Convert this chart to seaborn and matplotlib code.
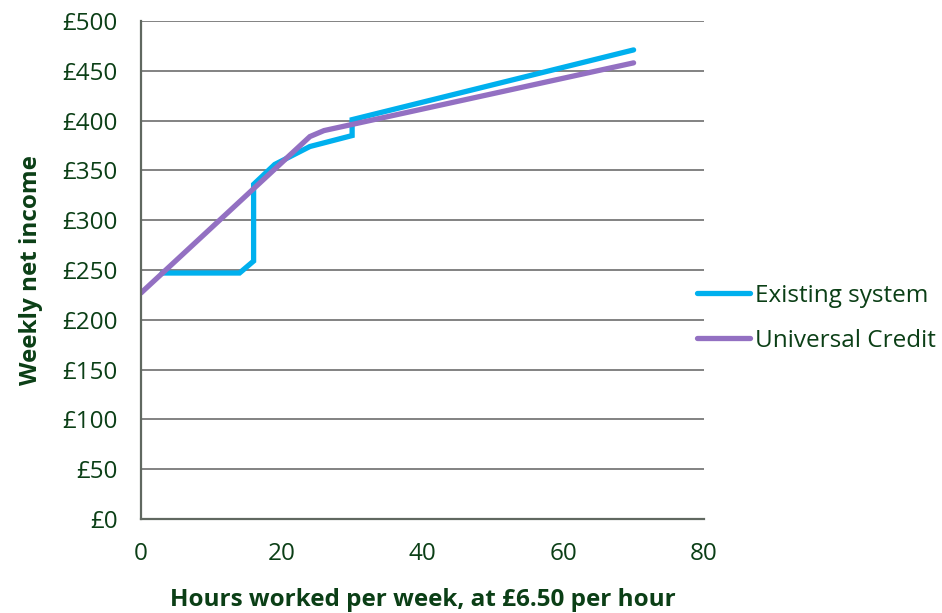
import pandas as pd
import matplotlib.pyplot as plt
import seaborn as sns

# === Data ===
existing_hours = [3, 14, 16, 16, 19, 24, 30, 30, 70]
existing_income = [247, 247, 259, 336, 356, 374, 385, 401, 471]
uc_hours = [0, 24, 26, 70]
uc_income = [227, 384, 390, 458]

series_names = ["Existing system", "Universal Credit"]
x_ticks = [0, 20, 40, 60, 80]
y_ticks = list(range(0, 501, 50))

df = pd.concat([
    pd.DataFrame({"hours": existing_hours, "income": existing_income, "series": series_names[0]}),
    pd.DataFrame({"hours": uc_hours, "income": uc_income, "series": series_names[1]}),
], ignore_index=True)

# === Style ===
text_col = "#0B3F16"
grid_col = "#828282"
palette = {"Existing system": "#00B0EE", "Universal Credit": "#9370C2"}
fs = 17.5

sns.set_style("white")
plt.rcParams["font.family"] = ["Open Sans", "DejaVu Sans"]

fig = plt.figure(figsize=(9.42, 6.13), dpi=100)
ax = fig.add_axes([0.1497, 0.1533, 0.5976, 0.8124])

sns.lineplot(data=df, x="hours", y="income", hue="series", palette=palette,
             estimator=None, sort=False, linewidth=3.8, ax=ax,
             solid_capstyle="round", solid_joinstyle="miter")

ax.set_xlim(0, 80)
ax.set_ylim(0, 500)
ax.set_xticks(x_ticks)
ax.set_yticks(y_ticks)
ax.set_yticklabels([f"£{v}" for v in y_ticks])
ax.yaxis.grid(True, color=grid_col, linewidth=1.4)
ax.set_axisbelow(True)

for side in ["top", "right"]:
    ax.spines[side].set_visible(False)
for side in ["left", "bottom"]:
    ax.spines[side].set_color("#606860")
    ax.spines[side].set_linewidth(1.6)

ax.tick_params(axis="y", direction="out", length=5.8, width=1.4, color=grid_col,
               labelsize=fs, labelcolor=text_col, pad=11)
ax.tick_params(axis="x", direction="out", length=4.3, width=1.4, color=grid_col,
               labelsize=fs, labelcolor=text_col, pad=12)

ax.set_xlabel("Hours worked per week, at £6.50 per hour", fontsize=fs,
              fontweight="bold", color=text_col, labelpad=16)
ax.set_ylabel("Weekly net income", fontsize=fs, fontweight="bold",
              color=text_col, labelpad=14)

handles, labels = ax.get_legend_handles_labels()
ax.legend(handles, labels, loc="center left", bbox_to_anchor=(0.970, 0.403),
          borderaxespad=0, frameon=False, fontsize=fs, labelcolor=text_col,
          handlelength=2.2, handletextpad=0.2, labelspacing=0.85)

plt.savefig("out.png", dpi=100)
plt.close()
